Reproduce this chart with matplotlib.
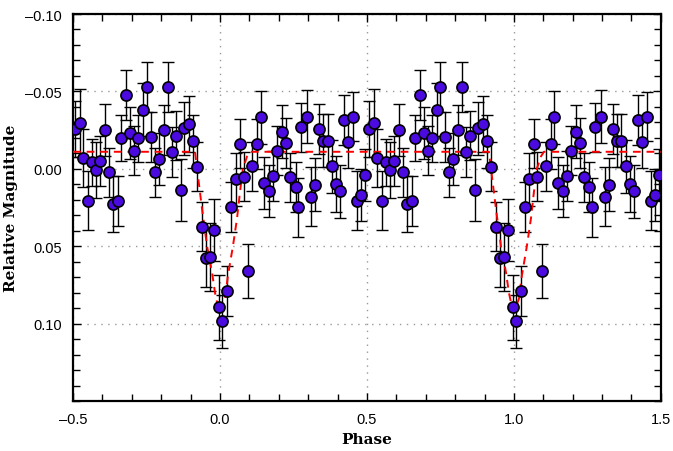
import numpy as np
import matplotlib
matplotlib.use("Agg")
import matplotlib.pyplot as plt
from matplotlib.ticker import MultipleLocator, FuncFormatter

# one folded cycle, phase -0.5 .. 0.5 (drawn twice, second copy shifted by +1)
phase = np.array([
    -0.493, -0.476, -0.465, -0.448, -0.434, -0.422, -0.408, -0.391, -0.377, -0.365,
    -0.348, -0.337, -0.321, -0.306, -0.293, -0.278, -0.263, -0.250, -0.236, -0.221,
    -0.206, -0.190, -0.178, -0.164, -0.150, -0.133, -0.121, -0.104, -0.091, -0.079,
    -0.062, -0.049, -0.034, -0.020, -0.003, 0.008, 0.023, 0.037, 0.053, 0.067,
    0.080, 0.094, 0.109, 0.125, 0.138, 0.151, 0.167, 0.181, 0.195, 0.210,
    0.224, 0.238, 0.257, 0.265, 0.276, 0.295, 0.310, 0.323, 0.337, 0.351,
    0.366, 0.382, 0.395, 0.408, 0.423, 0.436, 0.453, 0.465, 0.480, 0.493])
mag = np.array([
    -0.0257, -0.0296, -0.0070, 0.0206, -0.0042, 0.0006, -0.0050, -0.0251, 0.0023, 0.0227,
    0.0208, -0.0199, -0.0477, -0.0231, -0.0117, -0.0197, -0.0382, -0.0527, -0.0204, 0.0023,
    -0.0063, -0.0251, -0.0527, -0.0107, -0.0214, 0.0135, -0.0262, -0.0289, -0.0178, -0.0014,
    0.0373, 0.0574, 0.0570, 0.0395, 0.0895, 0.0985, 0.0789, 0.0247, 0.0068, -0.0163,
    0.0050, 0.0658, -0.0016, -0.0160, -0.0333, 0.0092, 0.0143, 0.0048, -0.0117, -0.0240,
    -0.0167, 0.0055, 0.0116, 0.0249, -0.0268, -0.0337, 0.0180, 0.0103, -0.0257, -0.0182,
    -0.0182, -0.0016, 0.0098, 0.0145, -0.0317, -0.0175, -0.0337, 0.0206, 0.0169, 0.0040])
err = np.array([
    0.018, 0.022, 0.019, 0.019, 0.015, 0.018, 0.016, 0.017, 0.016, 0.018,
    0.016, 0.015, 0.016, 0.017, 0.016, 0.015, 0.017, 0.016, 0.016, 0.016,
    0.017, 0.016, 0.016, 0.016, 0.016, 0.020, 0.017, 0.018, 0.017, 0.016,
    0.016, 0.019, 0.022, 0.020, 0.021, 0.017, 0.016, 0.016, 0.017, 0.016,
    0.016, 0.0175, 0.016, 0.016, 0.017, 0.017, 0.017, 0.016, 0.016, 0.017,
    0.016, 0.016, 0.016, 0.019, 0.016, 0.017, 0.019, 0.017, 0.016, 0.017,
    0.017, 0.017, 0.018, 0.017, 0.016, 0.017, 0.016, 0.019, 0.017, 0.017])

# model light curve for one cycle
model_phase = np.array([-0.5, -0.085, -0.078, -0.061, -0.044, -0.027, -0.017, -0.007, 0.0,
                        0.017, 0.027, 0.044, 0.058, 0.068, 0.078, 0.092, 0.102, 0.5])
model_mag = np.array([-0.011, -0.011, 0.0, 0.026, 0.050, 0.067, 0.080, 0.089, 0.0925,
                      0.084, 0.069, 0.050, 0.032, 0.015, 0.0, -0.008, -0.011, -0.011])

x_all = np.concatenate([phase, phase + 1])
y_all = np.concatenate([mag, mag])
e_all = np.concatenate([err, err])
mx = np.concatenate([model_phase, model_phase[1:] + 1])
my = np.concatenate([model_mag, model_mag[1:]])

plt.rcParams['font.family'] = ['Liberation Sans', 'DejaVu Sans']
fig = plt.figure(figsize=(6.73, 4.52), dpi=100)
ax = fig.add_axes([0.1085, 0.1106, 0.8735, 0.8562])

ax.errorbar(x_all, y_all, yerr=e_all, fmt='none', ecolor='black', elinewidth=1.0,
            capsize=4.5, capthick=1.0, zorder=2)
ax.plot(mx, my, color='red', linestyle=(0, (4, 3)), linewidth=1.4, zorder=3)
ax.plot(x_all, y_all, 'o', markersize=8, markerfacecolor='#4a0ae0',
        markeredgecolor='black', markeredgewidth=1.2, zorder=4)

def fmt(nd):
    return FuncFormatter(lambda v, p: ('%.*f' % (nd, v)).replace('-', '\u2013') if abs(v) > 1e-9 else '%.*f' % (nd, 0))

ax.set_xlim(-0.5, 1.5)
ax.xaxis.set_major_locator(MultipleLocator(0.5))
ax.xaxis.set_minor_locator(MultipleLocator(0.1))
ax.yaxis.set_minor_locator(MultipleLocator(0.01))
ax.xaxis.set_major_formatter(fmt(1))
ax.yaxis.set_major_formatter(fmt(2))
ax.set_yticks([-0.10, -0.05, 0.0, 0.05, 0.10])
ax.set_ylim(0.15, -0.10)

ax.tick_params(which='both', direction='in', top=True, right=True, labelsize=10.5, pad=8)
ax.tick_params(which='major', length=6, width=1)
ax.tick_params(which='minor', length=5, width=1)
for s in ax.spines.values():
    s.set_linewidth(1.6)
ax.grid(True, which='major', linestyle=(0, (1, 4)), color='#999999', linewidth=1)

ax.set_xlabel('Phase', family='DejaVu Serif', fontweight='bold', fontsize=11, labelpad=4)
ax.set_ylabel('Relative Magnitude', family='DejaVu Serif', fontweight='bold', fontsize=11, labelpad=5)

fig.savefig('out.png', dpi=100)
